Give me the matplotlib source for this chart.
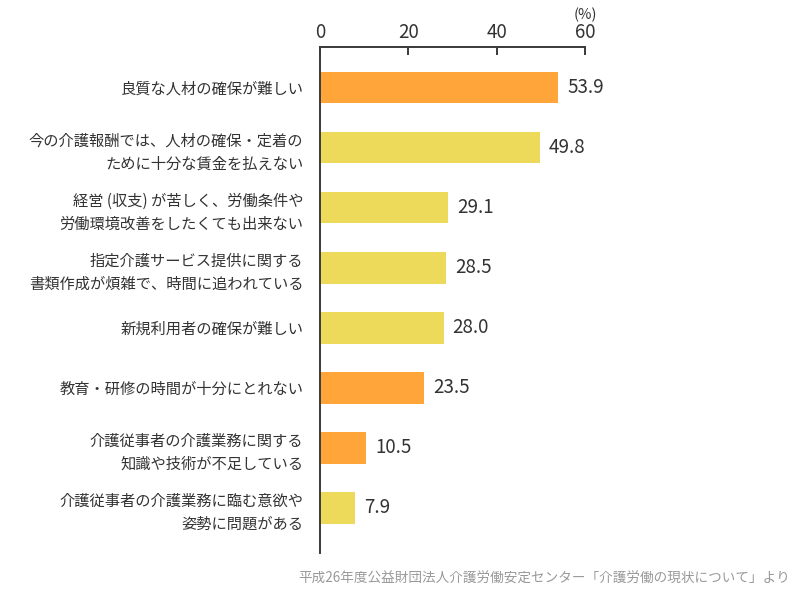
import matplotlib
matplotlib.use("Agg")
import matplotlib.pyplot as plt

plt.rcParams['font.family'] = ['Noto Sans CJK JP', 'DejaVu Sans']

# data
labels = [
    "良質な人材の確保が難しい",
    "今の介護報酬では、人材の確保・定着の\nために十分な賃金を払えない",
    "経営 (収支) が苦しく、労働条件や\n労働環境改善をしたくても出来ない",
    "指定介護サービス提供に関する\n書類作成が煩雑で、時間に追われている",
    "新規利用者の確保が難しい",
    "教育・研修の時間が十分にとれない",
    "介護従事者の介護業務に関する\n知識や技術が不足している",
    "介護従事者の介護業務に臨む意欲や\n姿勢に問題がある",
]
values = [53.9, 49.8, 29.1, 28.5, 28.0, 23.5, 10.5, 7.9]
highlight = [True, False, False, False, False, True, True, False]
xticks = [0, 20, 40, 60]
source = "平成26年度公益財団法人介護労働安定センター「介護労働の現状について」より"

orange = "#FFA53A"
yellow = "#EDD95A"
txt = "#333333"
axcol = "#3a3a3a"

fig = plt.figure(figsize=(7.98, 5.9), dpi=100)
ax = fig.add_axes([0.401, 0.063, 0.332, 0.857])

pos = list(range(len(values)))
colors = [orange if h else yellow for h in highlight]
ax.barh(pos, values, height=0.53, color=colors)

for p, v in zip(pos, values):
    ax.annotate(f"{v:.1f}", (v, p), xytext=(6.5, 0), textcoords="offset points",
                va="center", ha="left", fontsize=13.5, color=txt)

ax.set_xlim(0, 60)
ax.set_ylim(7.75, -0.67)
ax.set_xticks(xticks)
ax.xaxis.tick_top()
ax.tick_params(axis="x", direction="in", length=6, width=1.4, colors=axcol,
               labelsize=13.5, labelcolor=txt, pad=3)
ax.set_yticks(pos)
ax.set_yticklabels(labels, fontsize=11, color=txt, linespacing=1.45)
ax.tick_params(axis="y", length=0, pad=12)
for lbl in ax.get_yticklabels():
    lbl.set_horizontalalignment("right")
    lbl.set_multialignment("right")

for s in ["right", "bottom"]:
    ax.spines[s].set_visible(False)
for s in ["left", "top"]:
    ax.spines[s].set_color(axcol)
    ax.spines[s].set_linewidth(1.4)

ax.annotate("(%)", (60, 1), xycoords=("data", "axes fraction"), xytext=(0, 18),
            textcoords="offset points", ha="center", va="bottom",
            fontsize=10.5, color=txt)

fig.text(0.99, 0.008, source, ha="right", va="bottom", fontsize=9.8, color="#999999")

fig.savefig("out.png", dpi=100)
